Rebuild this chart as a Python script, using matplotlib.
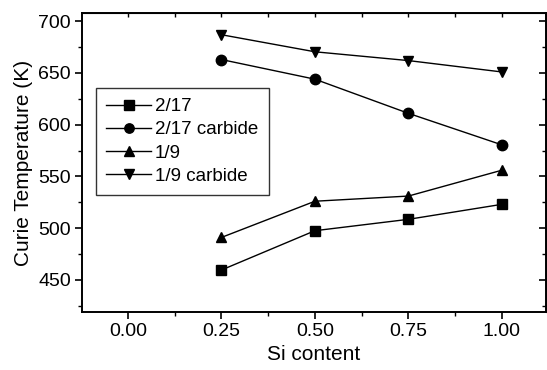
import matplotlib
matplotlib.use('Agg')
import matplotlib.pyplot as plt
from matplotlib.ticker import MultipleLocator

plt.rcParams['font.family'] = ['Liberation Sans', 'DejaVu Sans']

si = [0.25, 0.50, 0.75, 1.00]
t_217 = [459.5, 497.5, 508.5, 523]
t_217c = [663, 644, 611, 580.5]
t_19 = [491, 526, 531, 556]
t_19c = [687, 670.5, 662, 651]

fig = plt.figure(figsize=(5.47, 3.70), dpi=100)
ax = fig.add_axes([82/547, 1-312.3/370, (546-82)/547, (312.3-12.7)/370])

kw = dict(color='black', lw=1.0, ms=7.5)
ax.plot(si, t_217, marker='s', label='2/17', **kw)
ax.plot(si, t_217c, marker='o', label='2/17 carbide', **kw)
ax.plot(si, t_19, marker='^', label='1/9', **kw)
ax.plot(si, t_19c, marker='v', label='1/9 carbide', **kw)

ax.set_xlim(-0.123, 1.118)
ax.set_ylim(418.6, 708.3)
ax.xaxis.set_major_locator(MultipleLocator(0.25))
ax.xaxis.set_minor_locator(MultipleLocator(0.125))
ax.yaxis.set_major_locator(MultipleLocator(50))
ax.yaxis.set_minor_locator(MultipleLocator(25))
ax.xaxis.set_major_formatter(plt.FormatStrFormatter('%.2f'))
ax.tick_params(which='major', direction='out', length=5, width=1.2, labelsize=14, pad=3)
ax.tick_params(which='minor', direction='out', length=3, width=1.0)
for s in ax.spines.values():
    s.set_linewidth(1.4)

# inward ticks on top and right
top = ax.secondary_xaxis('top')
top.xaxis.set_major_locator(MultipleLocator(0.25))
top.xaxis.set_minor_locator(MultipleLocator(0.125))
top.tick_params(which='both', direction='in', length=3, width=1.0, labeltop=False)
right = ax.secondary_yaxis('right')
right.yaxis.set_major_locator(MultipleLocator(50))
right.yaxis.set_minor_locator(MultipleLocator(25))
right.tick_params(which='major', direction='in', length=5, width=1.2, labelright=False)
right.tick_params(which='minor', direction='in', length=3, width=1.0, labelright=False)

ax.set_xlabel('Si content', fontsize=15, labelpad=3)
ax.set_ylabel('Curie Temperature (K)', fontsize=15, labelpad=4)

leg = ax.legend(loc='upper left', bbox_to_anchor=(0.03, 0.749), fontsize=13.5,
                frameon=True, fancybox=False, edgecolor='black',
                handlelength=2.4, handletextpad=0.2, borderpad=0.55,
                labelspacing=0.32, markerscale=0.9, borderaxespad=0)
leg.get_frame().set_linewidth(1.0)

fig.savefig('out.png', dpi=100)
